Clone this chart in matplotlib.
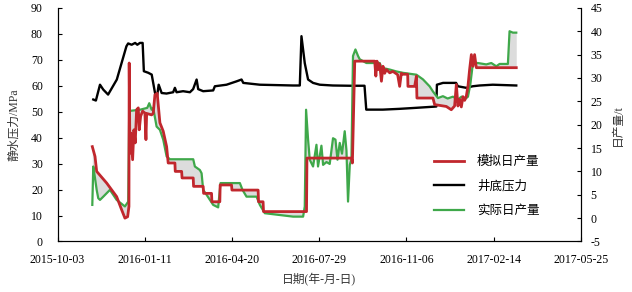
import numpy as np
import pandas as pd
import matplotlib
matplotlib.use("Agg")
import matplotlib.pyplot as plt
import matplotlib.dates as mdates

plt.rcParams['font.family'] = ['Liberation Serif', 'Noto Sans CJK SC']
plt.rcParams['axes.unicode_minus'] = False

start = pd.Timestamp('2015-10-03')

# 井底压力 (MPa), 天数从 2015-10-03 起算
p_days = [41, 44, 48.7, 52.5, 58, 68, 79, 81, 85, 89, 91.5, 94.5, 97.6, 99, 104, 108,
          111.7, 113.6, 116, 119.4, 125, 132.6, 134.6, 136.5, 144, 151.8, 155.5, 159.5,
          161.3, 167, 178.5, 180.4, 193.8, 205.3, 211, 213, 232, 270, 277.8, 279.7,
          283.5, 287.3, 293, 300.7, 315.6, 335, 352, 354, 373, 392, 411.5, 434.4, 435,
          442, 457, 459, 468.7, 476, 484, 499, 526]
p_vals = [54.7, 54.3, 60.4, 58.5, 56.6, 62.4, 75.2, 76.3, 75.8, 76.5, 75.8, 76.5, 76.5,
          65.6, 65.0, 64.3, 57.4, 54.7, 60.4, 57.2, 57.0, 57.5, 59.2, 57.5, 57.9, 57.5,
          58.7, 62.4, 58.7, 57.9, 58.2, 59.8, 60.4, 61.7, 62.4, 61.1, 60.4, 60.1, 60.1,
          79.1, 68.7, 62.4, 61.1, 60.4, 60.1, 60.0, 60.0, 50.8, 50.8, 51.1, 51.5, 52.0,
          60.4, 61.1, 61.1, 59.8, 59.2, 59.8, 60.1, 60.4, 60.1]

# 模拟日产量 (t)
sim_days = [39.9, 43.0, 44.9, 56.4, 67.8, 73.5, 77.3, 80.4, 81.9, 82.2, 83.0, 84.2, 86.1,
            87.6, 89.1, 90.7, 92.6, 93.7, 95.3, 97.6, 100.2, 101.4, 102.2, 107.9, 109.7,
            111.7, 114.3, 117.4, 121.2, 125.1, 126.9, 134.6, 135.0, 142.3, 142.8, 155.6,
            156.0, 167.0, 167.5, 176.6, 177.0, 186.1, 186.5, 199.5, 200.0, 230.0, 230.5,
            235.7, 236.2, 285.5, 286.0, 337.0, 338.1, 340.8, 363.7, 365.0, 366.3, 367.9,
            369.4, 371.4, 373.2, 375.1, 377.1, 380.9, 384.6, 390, 392.3, 394.2, 396.1,
            401.5, 401.8, 409.5, 411.5, 412.1, 430.5, 432.4, 445.8, 451.5, 455.3, 457.3,
            459.1, 461.1, 463.0, 464.9, 466.8, 468.7, 470.6, 472.5, 474.5, 476.3, 478.2,
            480.2, 526.0]
sim_vals = [15.3, 13.2, 10.0, 7.5, 4.6, 1.8, 0.0, 0.3, 2.5, 33.2, 13.9, 18.2, 12.5, 18.9,
            16.1, 23.2, 23.6, 18.9, 21.8, 22.9, 22.5, 16.8, 22.4, 22.1, 22.4, 26.4, 26.7,
            20.4, 18.6, 15.3, 11.8, 11.8, 10.0, 10.0, 8.6, 8.6, 6.8, 6.8, 5.3, 5.3, 3.5,
            3.5, 7.1, 7.1, 6.0, 6.0, 3.5, 3.5, 1.4, 1.4, 12.85, 12.85, 11.8, 33.6, 33.6,
            30.4, 33.6, 31.8, 33.0, 29.3, 32.5, 31.0, 31.8, 31.1, 31.4, 30.7, 28.2, 31.0,
            30.8, 30.8, 28.2, 28.2, 30.4, 25.7, 25.7, 24.3, 23.9, 23.2, 24.0, 28.6, 24.0,
            25.4, 23.8, 26.0, 25.2, 26.1, 28.2, 31.8, 35.0, 32.5, 35.0, 32.2, 32.2]

# 实际日产量 (t)
act_days = [39.9, 41.0, 43.0, 44.9, 46.7, 48.7, 52.5, 60.1, 67.8, 77.3, 81.1, 82.2, 85.0,
            94.5, 102.9, 105.2, 107.9, 109.7, 113.6, 117.4, 121.2, 125.1, 128.9, 155.6,
            157.5, 163.2, 165.2, 167.0, 170.9, 178.5, 184.2, 186.9, 209.1, 212.1, 216.7,
            228.2, 232.0, 237.7, 270.1, 281.6, 283.5, 285.0, 287.3, 289.2, 293.0, 296.9,
            298.7, 302.6, 304.5, 308.4, 312.1, 315.9, 318.7, 321.0, 323.6, 326.2, 329.3,
            331.3, 333.1, 335.1, 337.0, 338.8, 341.6, 344.6, 346.5, 354.2, 369.4, 371.4,
            380.9, 388.5, 396.1, 411.5, 419.0, 426.7, 430.5, 436.2, 441.9, 447.3, 453.4,
            459.1, 463.3, 466.8, 470.6, 473.3, 476.3, 482.0, 491.6, 497.4, 503.1, 506.9,
            516.4, 518.3, 522.1, 526.0]
act_vals = [2.83, 11.05, 8.56, 6.05, 4.27, 3.9, 4.6, 6.05, 3.9, 2.5, 3.54, 22.9, 23.0,
            23.2, 23.6, 24.6, 23.2, 23.6, 19.6, 18.9, 16.8, 13.2, 12.6, 12.6, 11.05, 10.3,
            9.6, 6.05, 5.0, 2.83, 2.3, 7.5, 7.5, 6.05, 4.6, 4.6, 2.83, 1.05, 0.32, 0.32,
            2.5, 23.2, 16.8, 12.5, 11.05, 15.7, 11.05, 15.5, 11.4, 12.0, 11.6, 17.1, 16.8,
            12.5, 16.1, 13.8, 18.6, 14.5, 3.54, 11.4, 12.5, 34.7, 36.1, 34.7, 34.0, 33.2,
            33.2, 32.2, 31.8, 31.4, 31.1, 30.7, 29.7, 28.2, 27.1, 25.7, 26.1, 25.6, 26.0,
            25.4, 26.0, 25.4, 26.0, 28.6, 33.2, 33.2, 32.9, 33.2, 32.5, 33.0, 33.0, 40.0,
            39.7, 39.7]


def to_num(days):
    return mdates.date2num(start + pd.to_timedelta(np.array(days), unit='D'))


px, sx, ax_ = to_num(p_days), to_num(sim_days), to_num(act_days)

fig = plt.figure(figsize=(6.32, 2.92), dpi=100)
ax = fig.add_axes([0.091, 0.173, 0.828, 0.8])
ax2 = ax.twinx()

red = '#c1272d'
green = '#3fa84a'

# 模拟与实际之间的灰色区域
grid = np.union1d(sx, ax_)
grid = grid[(grid >= max(sx[0], ax_[0])) & (grid <= min(sx[-1], ax_[-1]))]
ax2.fill_between(grid, np.interp(grid, sx, sim_vals), np.interp(grid, ax_, act_vals),
                 color='#dcdcdc', lw=0, zorder=1)

l3, = ax2.plot(ax_, act_vals, color=green, lw=1.6, zorder=2)
l1, = ax2.plot(sx, sim_vals, color=red, lw=2.0, zorder=3)
l2, = ax.plot(px, p_vals, color='black', lw=1.7)

ax.set_ylim(0, 90)
ax.set_yticks(range(0, 91, 10))
ax2.set_ylim(-5, 45)
ax2.set_yticks(range(-5, 46, 5))

xticks = [start + pd.Timedelta(days=100 * i) for i in range(7)]
ax.set_xlim(xticks[0], xticks[-1])
ax.set_xticks(xticks)
ax.xaxis.set_major_formatter(mdates.DateFormatter('%Y-%m-%d'))

for a in (ax, ax2):
    a.spines['top'].set_visible(False)
    a.tick_params(direction='in', labelsize=8.5, length=3, width=0.8)
    for s in a.spines.values():
        s.set_linewidth(0.8)
ax.tick_params(axis='x', pad=9)
ax.tick_params(axis='y', pad=10.5)
ax2.tick_params(axis='y', pad=7)

ax.set_ylabel('静水压力/MPa', fontsize=8.5, color='#333333', labelpad=8)
ax2.set_ylabel('日产量/t', fontsize=8.5, color='#333333', labelpad=7)
ax.set_xlabel('日期(年-月-日)', fontsize=8.5, color='#333333', labelpad=5)

ax2.legend([l1, l2, l3], ['模拟日产量', '井底压力', '实际日产量'],
           loc='center left', bbox_to_anchor=(0.72, 0.235), frameon=False,
           fontsize=9, handlelength=2.4, handletextpad=1.0, labelspacing=1.0,
           borderpad=0, borderaxespad=0)

fig.savefig('out.png', dpi=100)
